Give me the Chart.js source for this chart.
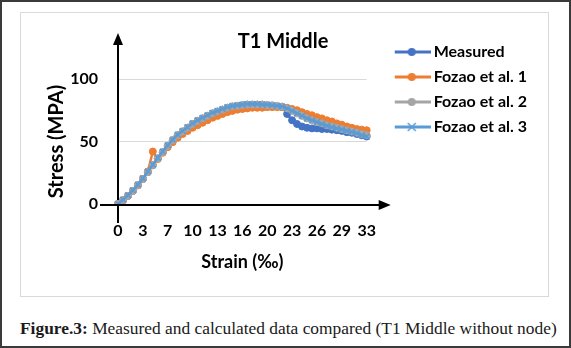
<!DOCTYPE html>
<html>
<head>
<meta charset="utf-8">
<script src="https://cdn.jsdelivr.net/npm/chart.js@4.4.1/dist/chart.umd.min.js"></script>
<style>
  body { margin: 0; background: #fff; }
  #frame { position: absolute; left: 0; top: 0; width: 571px; height: 348px; box-sizing: border-box; border: 2px solid #3a3a3a; }
  #box { position: absolute; left: 20px; top: 12px; width: 529px; height: 285px; box-sizing: border-box; border: 1px solid #d9d9d9; }
  #wrap { position: absolute; left: 0; top: 0; width: 571px; height: 300px; }
  #caption { position: absolute; left: 20px; top: 318px; font: 17.4px "Liberation Serif", "Times New Roman", serif; color: #1a1a1a; white-space: nowrap; }
</style>
</head>
<body>
<div id="frame"></div>
<div id="box"></div>
<div id="wrap"><canvas id="lineChart"></canvas></div>
<div id="caption"><b>Figure.3:</b> Measured and calculated data compared (T1 Middle without node)</div>
<script>
// strain (‰), one point per category
const strain = [0, 0.65, 1.31, 1.96, 2.62, 3.27, 3.92, 4.58, 5.23, 5.89,
  6.54, 7.19, 7.85, 8.5, 9.16, 9.81, 10.46, 11.12, 11.77, 12.43,
  13.08, 13.73, 14.39, 15.04, 15.7, 16.35, 17.0, 17.66, 18.31, 18.97,
  19.62, 20.27, 20.93, 21.58, 22.24, 22.89, 23.54, 24.2, 24.85, 25.51,
  26.16, 26.81, 27.47, 28.12, 28.78, 29.43, 30.08, 30.74, 31.39, 32.05, 32.7];

// stress (MPA)
const measured = [0, 3, 6.5, 10.5, 15, 20, 25.5, 31, 36.5, 41.5,
  46.5, 51, 55, 58, 61, 64, 66.5, 68.5, 70.5, 72.5,
  74, 75.5, 77, 78, 78.5, 79, 79.5, 79.5, 79.5, 79.5,
  79, 78.5, 78, 77.5, 72, 67, 64, 62, 61, 60.5,
  60.5, 60, 60, 59.5, 59, 58.5, 57.5, 57, 56, 55, 54];
const fozao1 = [0, 3, 6.5, 10.5, 15, 20, 26, 42, 36, 41,
  45.5, 49.5, 53, 56, 58.5, 61, 63, 65, 67, 69,
  70.5, 72, 73.5, 74.5, 75.5, 76, 76.5, 77, 77, 77,
  77.5, 77.5, 77.5, 77.5, 77, 76, 75, 73.5, 72, 71,
  69.5, 68.5, 67, 66, 64.5, 63.5, 62, 61, 60, 59.5, 59];
const fozao2 = [0, 3, 6.5, 10.5, 15, 20, 25.5, 31, 36.5, 41.5,
  46.5, 51, 55, 58, 61, 64, 66.5, 68.5, 70.5, 72.5,
  74, 75.5, 77, 78, 78.5, 79, 79.5, 79.5, 79.5, 79.5,
  79, 79, 78.5, 78, 76.5, 74.5, 72.5, 70.5, 68.5, 67,
  65.5, 64.5, 63, 62, 61, 60, 59, 58, 57, 56, 55];
const fozao3 = [0, 3.5, 7, 11, 15.5, 20.5, 26, 31.5, 37, 42,
  47, 51.5, 55.5, 58.5, 61.5, 64.5, 67, 69, 71, 73,
  74.5, 76, 77.5, 78.5, 79, 79.5, 80, 80, 80, 79.5,
  79.5, 79, 78.5, 78, 76.5, 74.5, 72.5, 70.5, 68.5, 67,
  65.5, 64, 62.5, 61.5, 60.5, 59.5, 58.5, 57.5, 56.5, 55, 54];

const seriesNames = ["Measured", "Fozao et al. 1", "Fozao et al. 2", "Fozao et al. 3"];
const colors = ["#4472C4", "#ED7D31", "#A5A5A5", "#5B9BD5"];
const markers = ["circle", "circle", "circle", "crossRot"];

const font = "Lato";

// legend icon: a line with the marker in its middle
function legendIcon(color, marker) {
  const c = document.createElement("canvas");
  c.width = 60; c.height = 14;
  const g = c.getContext("2d");
  g.strokeStyle = color; g.fillStyle = color; g.lineWidth = 3;
  g.beginPath(); g.moveTo(24, 7); g.lineTo(60, 7); g.stroke();
  if (marker === "circle") {
    g.beginPath(); g.arc(41, 7, 4, 0, Math.PI * 2); g.fill();
  } else {
    g.lineWidth = 1.5;
    g.beginPath();
    g.moveTo(37, 3); g.lineTo(45, 11); g.moveTo(45, 3); g.lineTo(37, 11);
    g.stroke();
  }
  return c;
}
const icons = colors.map((c, i) => legendIcon(c, markers[i]));

// arrow-headed axes like the original
const axisArrows = {
  id: "axisArrows",
  beforeDatasetsDraw(chart) {
    const { ctx, chartArea: a } = chart;
    const y0 = chart.scales.y.getPixelForValue(0) + 1;
    ctx.save();
    ctx.strokeStyle = "#000";
    ctx.fillStyle = "#000";
    ctx.lineWidth = 2;
    ctx.beginPath();
    ctx.moveTo(a.left - 18, y0); ctx.lineTo(a.right + 16, y0);
    ctx.moveTo(a.left, y0 + 18); ctx.lineTo(a.left, a.top - 38);
    ctx.stroke();
    ctx.beginPath();
    ctx.moveTo(a.right + 24, y0); ctx.lineTo(a.right + 12, y0 - 5); ctx.lineTo(a.right + 12, y0 + 5);
    ctx.closePath(); ctx.fill();
    ctx.beginPath();
    ctx.moveTo(a.left, a.top - 46); ctx.lineTo(a.left - 5, a.top - 34); ctx.lineTo(a.left + 5, a.top - 34);
    ctx.closePath(); ctx.fill();
    ctx.restore();
  }
};

const values = [measured, fozao1, fozao2, fozao3];

new Chart(document.getElementById("lineChart"), {
  type: "line",
  data: {
    labels: strain,
    datasets: values.map((v, i) => ({
      label: seriesNames[i],
      data: v,
      borderColor: colors[i],
      backgroundColor: colors[i],
      borderWidth: 2.5,
      pointStyle: markers[i],
      pointRadius: markers[i] === "circle" ? 3.5 : 4,
      pointBorderWidth: markers[i] === "circle" ? 1 : 1.5,
      pointBorderColor: colors[i],
      pointBackgroundColor: colors[i],
      tension: 0,
      order: 4 - i
    }))
  },
  options: {
    responsive: true,
    maintainAspectRatio: false,
    animation: false,
    layout: { padding: { top: 35, left: 29, right: 34, bottom: 23 } },
    plugins: {
      title: {
        display: true,
        text: "T1 Middle",
        color: "#000",
        font: { family: font, size: 20, weight: "bold" },
        padding: { top: -5, bottom: 25 }
      },
      legend: {
        position: "right",
        align: "start",
        maxWidth: 172,
        labels: {
          usePointStyle: true,
          pointStyleWidth: 50,
          padding: 9,
          color: "#000",
          font: { family: font, size: 16, weight: "bold" },
          generateLabels: (chart) => chart.data.datasets.map((ds, i) => ({
            text: ds.label,
            pointStyle: icons[i],
            fillStyle: "transparent",
            strokeStyle: "transparent",
            lineWidth: 0,
            fontColor: "#000",
            hidden: false,
            datasetIndex: i
          }))
        }
      },
      tooltip: { enabled: false }
    },
    scales: {
      x: {
        type: "category",
        grid: { display: false, drawTicks: false },
        border: { display: false },
        ticks: {
          autoSkip: false,
          maxRotation: 0,
          padding: 17,
          color: "#000",
          font: { family: font, size: 16, weight: "bold" },
          callback: (value, index) => index % 5 === 0 ? String(Math.round(strain[index])) : ""
        },
        title: {
          display: true,
          text: "Strain (‰)",
          color: "#000",
          font: { family: font, size: 18, weight: "bold" }
        },
        afterFit: (scale) => { scale.height = 73; }
      },
      y: {
        min: 0,
        max: 100,
        grid: {
          drawTicks: false,
          color: (ctx) => ctx.tick && ctx.tick.value === 0 ? "rgba(0,0,0,0)" : "#d9d9d9"
        },
        border: { display: false },
        ticks: {
          stepSize: 50,
          padding: 20,
          color: "#000",
          font: { family: font, size: 16, weight: "bold" }
        },
        title: {
          display: true,
          text: "Stress (MPA)",
          color: "#000",
          font: { family: font, size: 20, weight: "bold" },
          padding: { top: 16, bottom: 4 }
        },
        afterFit: (scale) => { scale.width = 89; }
      }
    }
  },
  plugins: [axisArrows]
});
</script>
</body>
</html>
